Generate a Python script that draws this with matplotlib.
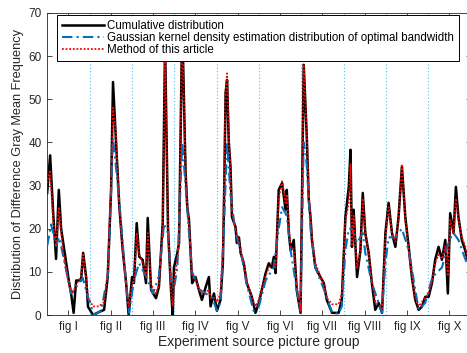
import matplotlib
matplotlib.use("Agg")
import matplotlib.pyplot as plt

plt.rcParams['font.family'] = ['Liberation Sans', 'DejaVu Sans']

group_labels = ["fig I", "fig II", "fig III", "fig IV", "fig V",
                "fig VI", "fig VII", "fig VIII", "fig IX", "fig X"]
group_centers = [10, 30, 50, 70, 90, 110, 130, 150, 170, 190]
group_bounds = [20, 40, 60, 80, 100, 120, 140, 160, 180]

# Cumulative distribution (black)
cum_x = [0, 1.4, 2.8, 4.2, 5.5, 6.6, 7.5, 9.0, 10.4, 11.3, 12.5, 13.7, 16, 17, 18.4, 19.3,
         21.7, 24.5, 26.9, 28.6, 30.2, 31.1, 32.5, 34.1, 35.7, 37.3, 38.5,
         40.1, 41, 42.3, 43.5, 45.1, 46.7, 47.5, 49.1, 51.4, 52.8, 54.6, 55.7, 57.1, 58.5, 59.3,
         59.9, 61.5, 62.3, 63.8, 65.4, 66.2, 67, 68.5, 70.1, 71.7, 73.1, 74.9, 76.4, 77.2, 78.8, 80.2,
         81.9, 83, 83.5, 84.3, 85, 85.8, 86.6, 87.3, 89, 89.6, 90.6, 91.4, 92.9, 94.3, 96.7, 98.4,
         100, 101.4, 103.2, 104.7, 106.1, 107.1, 107.9, 109.4, 111, 112.6, 113.2, 114.2, 115, 116.5, 117.9, 119.7,
         121.2, 122.6, 123.6, 124.4, 125.1, 126.7, 129.1, 130.7, 132.1, 134.6, 137.7, 139.2,
         140.9, 142.5, 143.3, 144, 144.8, 146.4, 148, 149.1, 150.3, 151.9, 153.4, 155, 156.6, 158.2,
         159.8, 161.3, 162.9, 164.5, 166, 167.6, 169.2, 170.8, 172.3, 173.9, 175.5, 177, 178.6,
         180.2, 181.8, 183.3, 184.9, 186.5, 188.1, 189.3, 190.4, 192, 193.1, 194.3, 195.9, 197.5, 199, 200]
cum_y = [28.3, 37, 24, 13, 29, 20, 17, 12, 7.4, 5, 0.5, 8, 8, 14.4, 8.8, 1.9,
         0, 0.7, 1.2, 8.8, 29, 54, 40.6, 25, 15, 7.4, 0,
         8.8, 7.4, 21.3, 13.5, 12.8, 7.4, 22.5, 5.8, 3.9, 6.5, 21.3, 63, 20, 5.8, 0,
         11, 14.4, 16.7, 68, 33, 25, 22, 7.4, 8.8, 5.8, 3.5, 6.5, 8.8, 2, 5, 1,
         3.5, 12, 24.4, 51.5, 54.5, 40, 34.4, 22.7, 20.4, 16.7, 18, 14.4, 12, 7.4, 4.2, 0.5,
         2.8, 5.8, 9.7, 12, 11, 13.5, 9.7, 29, 30.6, 24.4, 29, 19, 15, 17.4, 5.8, 0.5,
         58, 42, 26.7, 22.7, 17.4, 11, 8.8, 7.4, 3.5, 0.5, 0.5, 3.5,
         22.7, 29.7, 38.3, 15.8, 24.4, 8.8, 15, 28.3, 19, 14.4, 7.4, 1.2, 2.8, 0.5,
         19, 26, 19, 15.8, 22.7, 34.4, 22.7, 15.8, 8.8, 3.5, 1.2, 1.9, 4.2,
         4.2, 7.4, 12.8, 15.8, 12.8, 17.4, 5, 23.6, 19, 29.7, 22.7, 17.4, 15, 12, 10]

# Gaussian kernel density estimation (blue)
kde_x = [0, 1.9, 4.2, 5.7, 9, 11.3, 13.7, 16.8, 19.2,
         22.2, 25.5, 28.8, 31.1, 34, 37.3, 38.7,
         41, 43.4, 46.7, 50, 52.8, 55.2, 57.1, 58.5, 59.9,
         61.5, 63.8, 65.4, 67, 68.5, 71.7, 74.9, 78, 80.2,
         81.9, 83.5, 85, 86.6, 89, 91.4, 94.3, 97.5,
         100, 103.2, 107, 109.4, 111, 113.2, 115, 117.9, 119.7,
         121.2, 122.6, 124.4, 126.7, 130.7, 134.6, 137.7, 139.2,
         140.9, 142.5, 144, 146.4, 149.1, 150.3, 153.4, 158.2,
         159.8, 161.3, 164.5, 167.6, 170.8, 175.5, 178.6,
         182, 186.5, 190, 192, 194.3, 197.5, 200]
kde_y = [16, 21, 16, 18, 10.4, 5, 6.5, 8.6, 4.2,
         0, 1, 9.7, 41, 27, 7, 0.5,
         8, 12, 9, 5, 9, 21, 19, 8, 6,
         11, 40, 30, 19, 10, 6, 5, 4, 1,
         3, 20, 40, 28, 19, 15, 7, 1,
         2, 8, 11, 20, 25, 23, 15, 6, 1,
         40, 35, 20, 11, 6, 0.5, 0.3, 2,
         15, 20, 20, 16.7, 19, 14.4, 7.4, 0.5,
         12, 18, 18, 20, 15, 1.2, 2.8,
         8.8, 11, 17.4, 19, 17.4, 13, 10]

# Method of this article (red)
meth_x = [0, 1.4, 2.8, 4.2, 5.5, 7.5, 9, 10.4, 12, 13.7, 16, 17, 18.4, 19.3,
          21.7, 24.5, 26.9, 28.6, 30.2, 31.1, 32.5, 34.1, 35.7, 37.3, 38.5,
          40.1, 41, 42.3, 43.5, 45.1, 46.7, 47.5, 49.1, 51.4, 52.8, 54.6, 55.7, 57.1, 58.5, 59.3,
          60, 61.5, 62.3, 63.8, 65.4, 66.2, 67, 68.5, 70.1, 71.7, 73.1, 74.9, 76.4, 77.2, 78.8, 80.2,
          81.9, 83, 83.5, 84.3, 85, 85.8, 86.6, 87.3, 89, 90.6, 91.4, 92.9, 94.3, 96.7, 98.4,
          100, 101.4, 103.2, 104.7, 106.1, 107.1, 107.9, 109.4, 111, 112.6, 113.2, 114.2, 115, 116.5, 117.9, 119.7,
          121.2, 122.6, 123.6, 124.4, 125.1, 126.7, 129.1, 130.7, 132.1, 134.6, 137.7, 139.2,
          140.9, 142.5, 143.3, 144, 144.8, 146.4, 148, 149.1, 150.3, 151.9, 153.4, 155, 156.6, 158.2,
          159.8, 161.3, 162.9, 164.5, 166, 167.6, 169.2, 170.8, 172.3, 173.9, 175.5, 177, 178.6,
          180.2, 181.8, 183.3, 184.9, 186.5, 188.1, 189.3, 190.4, 192, 193.1, 194.3, 195.9, 197.5, 199, 200]
meth_y = [30.6, 33.6, 22, 16, 25, 15, 10, 7, 5, 7, 9, 14, 8.5, 4,
          2, 2, 3, 10, 30, 48, 42, 25, 15, 7, 2,
          7, 8, 19, 14, 12, 9, 19, 7, 5, 7, 20, 61, 20, 6, 2,
          8, 13, 16, 66, 33, 25, 21, 9, 8, 6, 5, 5, 6, 4, 4, 3,
          5, 15, 30, 52, 56, 42, 33, 24, 20, 17, 15, 12, 8, 4, 2,
          3.5, 6, 9, 11, 12, 12, 11, 27, 31, 26, 28, 20, 16, 15, 7, 1,
          58, 43, 28, 23, 18, 12, 9, 7, 4, 2.5, 2.5, 5,
          22, 26, 35, 16, 23, 11, 15, 27, 19, 14, 8, 3, 2.5, 1.5,
          18, 25, 19, 17, 22, 35, 22, 15, 9, 4, 2, 3, 4,
          5, 8, 12, 14, 13, 16, 9, 22, 19, 27, 22, 18, 16, 12, 10]

series_labels = ["Cumulative distribution",
                 "Gaussian kernel density estimation distribution of optimal bandwidth",
                 "Method of this article"]

fig = plt.figure(figsize=(4.67, 3.53), dpi=100)
ax = fig.add_axes([0.101, 0.1076, 0.9065, 0.8556])

for b in group_bounds:
    ax.axvline(b, color='#4DBEEE', linestyle=(0, (1, 2)), linewidth=0.8, zorder=1)

ax.plot(cum_x, cum_y, color='black', linewidth=1.8, label=series_labels[0], zorder=2)
ax.plot(kde_x, kde_y, color='#0072BD', linewidth=1.5, linestyle=(0, (5, 2, 1, 2)),
        label=series_labels[1], zorder=3)
ax.plot(meth_x, meth_y, color='red', linewidth=1.3, linestyle=(0, (1, 1)),
        label=series_labels[2], zorder=4)

ax.set_xlim(0, 200)
ax.set_ylim(0, 70)
ax.set_xticks(group_centers)
ax.set_xticklabels(group_labels)
ax.set_yticks(range(0, 71, 10))
ax.tick_params(direction='in', top=True, right=True, length=3.5, width=0.6,
               labelsize=8.5, colors='#262626', pad=4)
for s in ax.spines.values():
    s.set_color('#262626')
    s.set_linewidth(0.6)

ax.set_xlabel("Experiment source picture group", fontsize=10, color='#262626', labelpad=2)
ax.set_ylabel("Distribution of Difference Gray Mean Frequency", fontsize=9.2,
              color='#262626', labelpad=3)

leg = ax.legend(loc='upper left', bbox_to_anchor=(0.023, 0.993), fontsize=8.3,
                frameon=True, fancybox=False, edgecolor='black', framealpha=1,
                handlelength=3.6, handletextpad=0.3, labelspacing=0.0,
                borderpad=0.45, borderaxespad=0)
leg.get_frame().set_linewidth(0.7)
leg.set_zorder(10)

fig.savefig("out.png", dpi=100)
